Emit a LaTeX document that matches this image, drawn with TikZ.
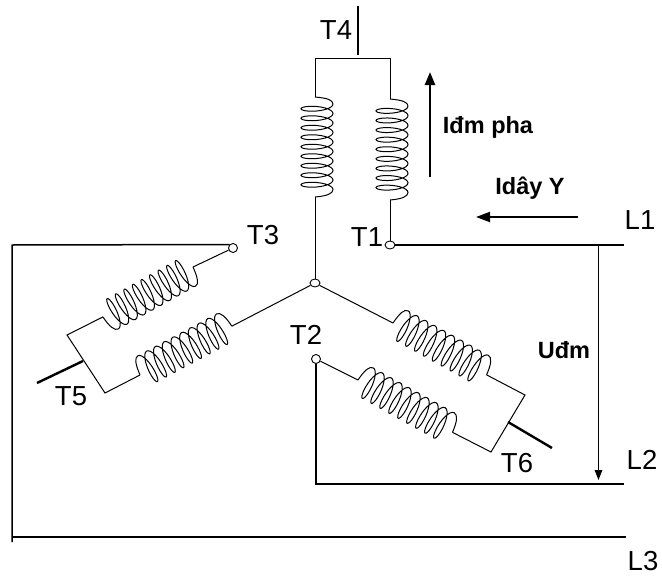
\documentclass[tikz,border=0pt]{standalone}
\usepackage{fontspec}
\setmainfont{Liberation Sans}
\usetikzlibrary{arrows.meta}
\usetikzlibrary{shapes.geometric}
\tikzset{
  wire/.style={line width=1pt,black},
  heavy/.style={line width=1.5pt,black},
  stub/.style={line width=2.4pt,black},
  tag/.style={font=\fontsize{27.5}{29}\selectfont,inner sep=0pt},
  boldtag/.style={font=\fontsize{23.5}{25}\selectfont\bfseries,inner sep=0pt},
  term/.style={draw,ellipse,fill=white,line width=0.9pt,inner sep=0pt,minimum width=10pt,minimum height=8pt},
  fatarrow/.style={line width=2.4pt,-{Triangle[length=13pt,width=10pt]}},
  thinarrow/.style={line width=1.4pt,-{Triangle[length=10pt,width=7.5pt]}},
  wideline/.style={line width=2pt,-{Triangle[length=14pt,width=10pt]}},
  coilpic/.pic={
    \coordinate (-in) at (0,0);
    \coordinate (-out) at (100,0);
    \draw[wire] (0,0) .. controls (1,-12) and (3,-18) .. (7,-18)
      plot[smooth,samples=217,domain=0:18*pi,variable=\t]
        ({7+\t*85.5/(18*pi)+4.6*sin(\t r)},{-2-16*cos(\t r)})
      .. controls (96.5,-18) and (99,-12) .. (100,0);
  }
}
\begin{document}
\begin{tikzpicture}[x=1pt,y=-1pt]
  \useasboundingbox (0,0) rectangle (662,576);
  % centre and terminals
  \node[term] (star) at (315,283) {};
  \node[term] (t1) at (390,245) {};
  \node[term,minimum width=9pt,minimum height=9pt] (t3) at (233,248) {};
  \node[term,minimum width=9pt,minimum height=9pt] (t2) at (316,359) {};
  % coils
  \pic (ca) at (315,97) [rotate=-90] {coilpic};
  \pic (cb) at (390,99) [rotate=-90,xscale=1.01] {coilpic};
  \pic (cc) at (193,267) [rotate=-151,xscale=1.03] {coilpic};
  \pic (cd) at (140,375) [rotate=28,xscale=1.04] {coilpic};
  \pic (ce) at (393,323) [rotate=-29,xscale=1.07] {coilpic};
  \pic (cf) at (358,380) [rotate=-29,xscale=1.08] {coilpic};
  % corners
  \coordinate (topl) at (315,58);
  \coordinate (topr) at (390,58);
  \coordinate (topm) at (358,55);
  \coordinate (topend) at (358,6);
  \coordinate (fivea) at (67,335);
  \coordinate (fiveb) at (105,393);
  \coordinate (fivem) at (83,361);
  \coordinate (fiveend) at (37,383);
  \coordinate (sixa) at (525,395);
  \coordinate (sixb) at (491,452);
  \coordinate (sixm) at (508,422);
  \coordinate (sixend) at (552,448);
  \coordinate (lone) at (624,245);
  \coordinate (ltwo) at (624,484);
  \coordinate (lthree) at (626,537);
  \coordinate (cornera) at (12,245);
  \coordinate (cornerb) at (12,537);
  \coordinate (cornerc) at (12,542);
  \coordinate (cornerd) at (316,484);
  \coordinate (ua) at (598.5,245);
  \coordinate (ub) at (598.5,480);
  \coordinate (ia) at (430,177);
  \coordinate (ib) at (430,72);
  \coordinate (ja) at (578,217);
  \coordinate (jb) at (476,217);
  % windings
  \draw[wire] (star) -- (ca-out);
  \draw[wire] (ca-in) -- (topl) -- (topr) -- (cb-in);
  \draw[wire] (cb-out) -- (t1);
  \draw[wire] (t3) -- (cc-in);
  \draw[wire] (cc-out) -- (fivea) -- (fiveb) -- (cd-in);
  \draw[wire] (cd-out) -- (star);
  \draw[wire] (star) -- (ce-in);
  \draw[wire] (ce-out) -- (sixa) -- (sixb) -- (cf-out);
  \draw[wire] (cf-in) -- (t2);
  \draw[heavy] (topm) -- (topend);
  \draw[stub] (fivem) -- (fiveend);
  \draw[stub] (sixm) -- (sixend);
  % lines
  \draw[heavy] (t1) -- (lone);
  \draw[heavy] (t3.north west) -- (cornera) -- (cornerc);
  \draw[heavy] (t2) -- (cornerd) -- (ltwo);
  \draw[heavy] (cornerb) -- (lthree);
  % arrows
  \draw[thinarrow] (ua) -- (ub);
  \draw[fatarrow] (ia) -- (ib);
  \draw[wideline] (ja) -- (jb);
  % labels
  \node[tag] (t4lab) at (336,30) {T4};
  \node[tag] (t1lab) at (367,237) {T1};
  \node[tag] (t3lab) at (263,235) {T3};
  \node[tag] (t2lab) at (306,335) {T2};
  \node[tag] (t5lab) at (71,396) {T5};
  \node[tag] (t6lab) at (517,463) {T6};
  \node[tag] (l1lab) at (640,220) {L1};
  \node[tag] (l2lab) at (642,460) {L2};
  \node[tag] (l3lab) at (643,561) {L3};
  \node[boldtag] (idm) at (488,127) {Iđm pha};
  \node[boldtag] (iday) at (530,188) {Idây Y};
  \node[boldtag] (udm) at (564,350) {Uđm};
\end{tikzpicture}
\end{document}
